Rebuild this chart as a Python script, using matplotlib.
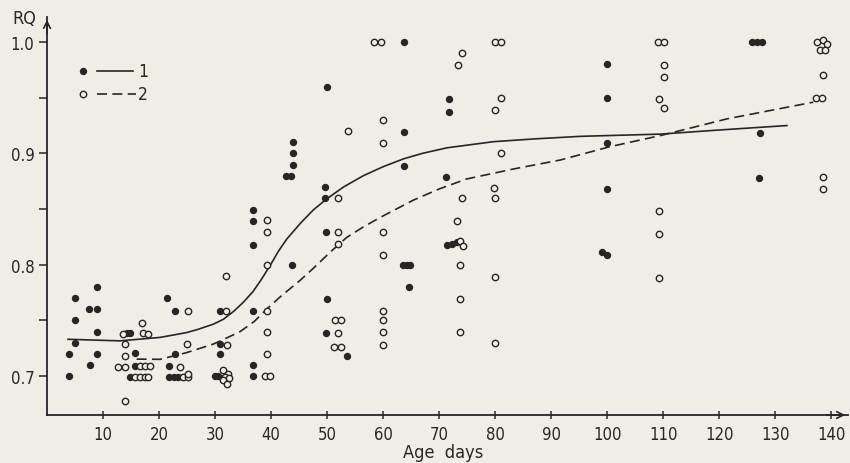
import matplotlib
matplotlib.use("Agg")
import matplotlib.pyplot as plt
from matplotlib import font_manager

names = {f.name for f in font_manager.fontManager.ttflist}
stretches = {(f.name, f.stretch) for f in font_manager.fontManager.ttflist}
if 'Liberation Sans Narrow' in names:
    plt.rcParams['font.family'] = ['Liberation Sans Narrow', 'DejaVu Sans']
else:
    plt.rcParams['font.family'] = ['DejaVu Sans']
    plt.rcParams['font.stretch'] = 'condensed'

# ---- data ----
# series 1 (filled dots): age in days, RQ
age1 = [4, 4, 5, 5, 5, 7.5, 7.7, 9, 9, 9, 9,
        14.3, 14.9, 15.7, 15.7, 14.8,
        21.4, 22.9, 22.9, 21.8, 21.7, 22.6, 23.4,
        30.8, 30.9, 30.8, 30.0, 30.6,
        36.8, 36.8, 36.8, 36.8, 36.8, 36.8,
        43.8, 42.7, 43.6, 44, 44, 44,
        49.9, 49.7, 49.7, 49.8, 49.9, 49.8, 53.6,
        63.75, 63.75, 63.75, 63.5, 64.2, 64.8, 64.7,
        71.8, 71.8, 71.25, 71.4, 72.3, 73.2,
        99.9, 99.9, 99.9, 99.9, 99.0, 99.9,
        125.8, 126.7, 127.6, 127.3, 127.2]
rq1 = [0.72, 0.70, 0.77, 0.75, 0.73, 0.76, 0.71, 0.78, 0.76, 0.74, 0.72,
       0.739, 0.739, 0.721, 0.709, 0.699,
       0.77, 0.758, 0.72, 0.709, 0.699, 0.699, 0.699,
       0.758, 0.729, 0.72, 0.70, 0.70,
       0.849, 0.839, 0.818, 0.758, 0.71, 0.70,
       0.80, 0.88, 0.88, 0.89, 0.90, 0.91,
       0.96, 0.87, 0.86, 0.829, 0.769, 0.739, 0.718,
       1.0, 0.919, 0.889, 0.80, 0.80, 0.80, 0.78,
       0.949, 0.937, 0.879, 0.818, 0.819, 0.82,
       0.98, 0.95, 0.909, 0.868, 0.811, 0.809,
       1.0, 1.0, 1.0, 0.918, 0.878]

# series 2 (open circles)
age2 = [13.9, 13.9, 13.9, 12.7, 13.9, 13.6,
        16.9, 17.2, 18.1, 16.6, 17.5, 18.4,
        15.7, 16.6, 17.5, 18.1,
        25.2, 25.05, 23.75, 24.3, 25.2, 25.2,
        32.0, 32.0, 32.1, 31.5, 32.3, 31.8, 32.5, 31.5, 32.2,
        39.2, 39.2, 39.2, 39.2, 39.2, 39.2, 39.0, 39.8,
        58.4, 59.6, 53.7, 59.9, 59.9, 52.0, 52.0, 52.0,
        60, 59.9, 60, 60, 60, 60,
        51.4, 52.5, 51.9, 51.3, 52.5,
        74.05, 73.3, 74, 73.2, 73.75, 74.3, 73.75, 73.75, 73.75,
        80, 81, 81, 80, 81, 79.8, 80, 80, 80,
        109, 110.2, 110.2, 110.2, 109.2, 110.2, 109.2, 109.2, 109.2,
        137.4, 138.5, 139.2, 138, 138.9, 138.6, 137.3, 138.4, 138.5, 138.5]
rq2 = [0.678, 0.729, 0.718, 0.708, 0.708, 0.738,
       0.748, 0.739, 0.738, 0.709, 0.709, 0.709,
       0.699, 0.699, 0.699, 0.699,
       0.758, 0.729, 0.708, 0.699, 0.699, 0.702,
       0.79, 0.758, 0.728, 0.705, 0.702, 0.699, 0.698, 0.696, 0.693,
       0.84, 0.829, 0.80, 0.758, 0.74, 0.72, 0.70, 0.70,
       1.0, 1.0, 0.92, 0.93, 0.909, 0.86, 0.829, 0.819,
       0.829, 0.809, 0.758, 0.75, 0.74, 0.728,
       0.75, 0.75, 0.739, 0.726, 0.726,
       0.99, 0.979, 0.86, 0.839, 0.8215, 0.817, 0.80, 0.769, 0.74,
       1.0, 1.0, 0.95, 0.939, 0.90, 0.869, 0.86, 0.789, 0.73,
       1.0, 1.0, 0.979, 0.969, 0.949, 0.941, 0.848, 0.828, 0.788,
       1.0, 1.002, 0.998, 0.993, 0.993, 0.97, 0.95, 0.95, 0.879, 0.868]

# fitted curves
curve1_age = [3.75, 13, 20.2, 24.9, 27, 29.7, 31.5, 33.3, 35, 36.8, 38.3, 39.8,
              41.3, 42.8, 45.2, 47.5, 49.9, 53, 56.5, 60, 63.6, 67, 71.4, 79.7,
              87, 95.2, 109.5, 120, 132.1]
curve1_rq = [0.733, 0.7316, 0.7347, 0.739, 0.742, 0.7466, 0.751, 0.758, 0.766, 0.776,
             0.787, 0.799, 0.812, 0.823, 0.837, 0.849, 0.859, 0.870, 0.880, 0.888,
             0.895, 0.900, 0.905, 0.9105, 0.913, 0.9153, 0.9173, 0.921, 0.925]

curve2_age = [16, 20.2, 24.9, 29.7, 32, 34.5, 37, 39.2, 41.6, 45.2, 47.6, 50.5,
              53.5, 56.5, 59.5, 65.4, 70, 74.9, 83.3, 91.6, 100.5, 109.5, 121.4, 136.8]
curve2_rq = [0.7152, 0.715, 0.721, 0.7287, 0.734, 0.740, 0.749, 0.760, 0.771, 0.786,
             0.797, 0.811, 0.8245, 0.834, 0.8425, 0.858, 0.868, 0.877, 0.886, 0.894,
             0.906, 0.916, 0.931, 0.946]

x_ticks = [10, 20, 30, 40, 50, 60, 70, 80, 90, 100, 110, 120, 130, 140]
y_ticks = [0.7, 0.8, 0.9, 1.0]
y_minor = [0.75, 0.85, 0.95]
legend_labels = ['1', '2']

# ---- drawing ----
bg = '#efede6'
ink = '#262626'
W, H = 850, 464
fig = plt.figure(figsize=(W / 100, H / 100), dpi=100, facecolor=bg)
ax = fig.add_axes([47 / W, (H - 416) / H, (848 - 47) / W, (416 - 18) / H])
ax.set_facecolor(bg)
ax.set_xlim(0, 143)
ax.set_ylim(0.665, 1.0225)

ax.plot(curve1_age, curve1_rq, '-', color=ink, lw=1.2, zorder=2)
ax.plot(curve2_age, curve2_rq, color=ink, lw=1.2, dashes=(6, 3.2), zorder=2)

ax.plot(age1, rq1, 'o', ms=4.3, color=ink, mec=ink, zorder=3, clip_on=False)
ax.plot(age2, rq2, 'o', ms=4.6, mfc=bg, mec=ink, mew=1.0, zorder=3, clip_on=False)

for s in ['top', 'right']:
    ax.spines[s].set_visible(False)
for s in ['left', 'bottom']:
    ax.spines[s].set_color(ink)
    ax.spines[s].set_linewidth(1.3)

ax.set_xticks(x_ticks)
ax.set_xticklabels([str(t) for t in x_ticks])
ax.set_yticks(y_ticks)
ax.set_yticklabels(['0.7', '0.8', '0.9', '1.0'])
ax.set_yticks(y_minor, minor=True)
ax.tick_params(axis='x', direction='inout', length=6, width=1.1, colors=ink,
               labelsize=12, pad=4)
ax.tick_params(axis='y', direction='out', length=6, width=1.1, colors=ink,
               labelsize=12, pad=3)
ax.tick_params(axis='y', which='minor', direction='out', length=6, width=1.1, colors=ink)

# axis arrows
ax.annotate('', xy=(1.0, 0), xytext=(0.97, 0), xycoords='axes fraction',
            arrowprops=dict(arrowstyle='->', lw=1.2, color=ink, mutation_scale=12))
ax.annotate('', xy=(0, 1.0), xytext=(0, 0.95), xycoords='axes fraction',
            arrowprops=dict(arrowstyle='->', lw=1.2, color=ink, mutation_scale=12))

fig.text(24 / W, 1 - 19 / H, 'RQ', ha='center', va='center', fontsize=13, color=ink)
fig.text(443 / W, 1 - 453 / H, 'Age  days', ha='center', va='center', fontsize=13, color=ink)

# legend (drawn manually)
def ax_frac(px, py):
    return (px - 47) / 801, (416 - py) / 398

for i, (lbl, y) in enumerate(zip(legend_labels, [72, 95])):
    mx, my = ax_frac(83, y)
    if i == 0:
        ax.plot([mx], [my], 'o', ms=4.3, color=ink, transform=ax.transAxes)
        x0, _ = ax_frac(97, y); x1, _ = ax_frac(133, y)
        ax.plot([x0, x1], [my, my], '-', color=ink, lw=1.2, transform=ax.transAxes)
    else:
        ax.plot([mx], [my], 'o', ms=4.6, mfc=bg, mec=ink, mew=1.0, transform=ax.transAxes)
        x0, _ = ax_frac(97, y); x1, _ = ax_frac(136, y)
        ax.plot([x0, x1], [my, my], color=ink, lw=1.2, dashes=(6, 3.2), transform=ax.transAxes)
    tx, _ = ax_frac(143, y)
    ax.text(tx, my, lbl, transform=ax.transAxes, ha='center', va='center',
            fontsize=12.5, color=ink)

fig.savefig('out.png', dpi=100, facecolor=bg)
